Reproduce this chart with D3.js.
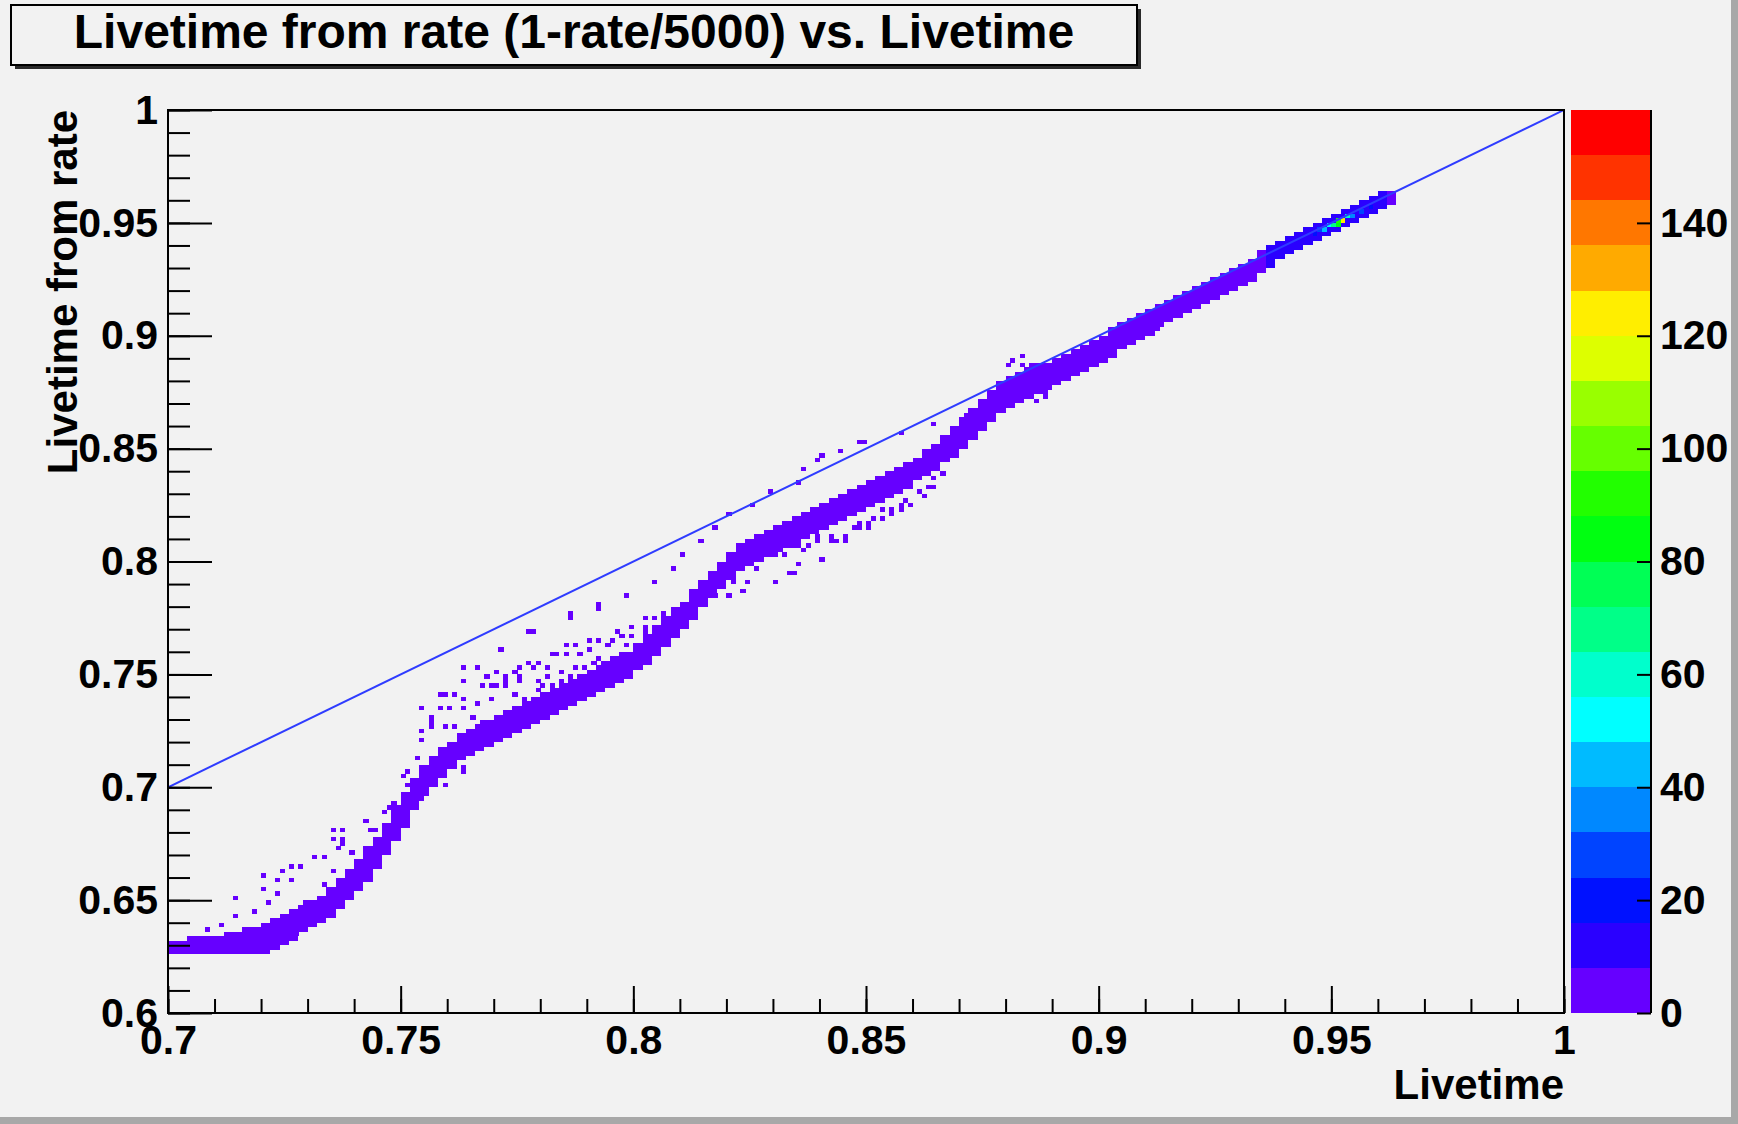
<!DOCTYPE html>
<html>
<head>
<meta charset="utf-8">
<script src="https://cdn.jsdelivr.net/npm/d3@7"></script>
<style>
  body { margin: 0; background: #f2f2f2; }
  text { font-family: "Liberation Sans", Arial, Helvetica, sans-serif; font-weight: bold; fill: #000; }
</style>
</head>
<body>
<div id="chart"></div>
<script>
// Axis ticks and labels
const xTicks = [0.7, 0.75, 0.8, 0.85, 0.9, 0.95, 1]
const xTickLabels = ["0.7", "0.75", "0.8", "0.85", "0.9", "0.95", "1"]
const yTicks = [0.6, 0.65, 0.7, 0.75, 0.8, 0.85, 0.9, 0.95, 1]
const yTickLabels = ["0.6", "0.65", "0.7", "0.75", "0.8", "0.85", "0.9", "0.95", "1"]
const zTicks = [0, 20, 40, 60, 80, 100, 120, 140]

// ROOT palette, 20 levels from 0 to 160 (8 counts each)
const palette = ["#6600ff", "#2a00ff", "#0011ff", "#0044ff", "#0088ff", "#00bbff", "#00ffff", "#00ffcc",
    "#00ff88", "#00ff55", "#00ff11", "#22ff00", "#66ff00", "#99ff00", "#ddff00", "#ffee00",
    "#ffaa00", "#ff7700", "#ff3300", "#ff0000"]
const zMax = 160

// Reference line livetime == livetime from rate
const lineX = [0.7, 1.0]
const lineY = [0.7, 1.0]

// Dense ridge: [livetime, lowest filled bin, highest filled bin, counts]
const ridge = [
    [0.700, 0.626, 0.631, 4], [0.702, 0.626, 0.631, 4], [0.704, 0.626, 0.632, 4], [0.706, 0.627, 0.632, 4],
    [0.708, 0.627, 0.633, 4], [0.710, 0.627, 0.633, 4], [0.712, 0.627, 0.634, 4], [0.714, 0.627, 0.634, 4],
    [0.716, 0.627, 0.636, 4], [0.718, 0.626, 0.637, 4], [0.720, 0.627, 0.638, 4], [0.722, 0.628, 0.640, 4],
    [0.724, 0.630, 0.642, 4], [0.726, 0.633, 0.644, 4], [0.728, 0.637, 0.647, 4], [0.730, 0.639, 0.649, 4],
    [0.732, 0.641, 0.651, 4], [0.734, 0.643, 0.654, 4], [0.736, 0.646, 0.658, 4], [0.738, 0.651, 0.663, 4],
    [0.740, 0.655, 0.667, 4], [0.742, 0.659, 0.672, 4], [0.744, 0.664, 0.677, 4], [0.746, 0.670, 0.683, 4],
    [0.748, 0.676, 0.690, 4], [0.750, 0.683, 0.697, 4], [0.752, 0.690, 0.703, 4], [0.754, 0.696, 0.708, 4],
    [0.756, 0.701, 0.712, 4], [0.758, 0.705, 0.716, 4], [0.760, 0.709, 0.719, 4], [0.762, 0.712, 0.722, 4],
    [0.764, 0.715, 0.725, 4], [0.766, 0.717, 0.727, 4], [0.768, 0.719, 0.729, 4], [0.770, 0.721, 0.731, 4],
    [0.772, 0.723, 0.733, 4], [0.774, 0.725, 0.735, 4], [0.776, 0.727, 0.737, 4], [0.778, 0.729, 0.739, 4],
    [0.780, 0.730, 0.740, 4], [0.782, 0.732, 0.742, 4], [0.784, 0.734, 0.744, 4], [0.786, 0.736, 0.746, 4],
    [0.788, 0.738, 0.748, 4], [0.790, 0.740, 0.750, 4], [0.792, 0.743, 0.753, 4], [0.794, 0.745, 0.755, 4],
    [0.796, 0.747, 0.757, 4], [0.798, 0.749, 0.759, 4], [0.800, 0.752, 0.762, 4], [0.802, 0.755, 0.766, 4],
    [0.804, 0.758, 0.770, 4], [0.806, 0.762, 0.774, 4], [0.808, 0.766, 0.778, 4], [0.810, 0.770, 0.781, 4],
    [0.812, 0.775, 0.786, 4], [0.814, 0.780, 0.791, 4], [0.816, 0.785, 0.795, 4], [0.818, 0.789, 0.799, 4],
    [0.820, 0.793, 0.803, 4], [0.822, 0.797, 0.806, 4], [0.824, 0.799, 0.808, 4], [0.826, 0.801, 0.810, 4],
    [0.828, 0.803, 0.812, 4], [0.830, 0.805, 0.814, 4], [0.832, 0.807, 0.816, 4], [0.834, 0.809, 0.818, 4],
    [0.836, 0.811, 0.820, 4], [0.838, 0.813, 0.822, 4], [0.840, 0.815, 0.824, 4], [0.842, 0.817, 0.826, 4],
    [0.844, 0.819, 0.828, 4], [0.846, 0.821, 0.830, 4], [0.848, 0.823, 0.832, 4], [0.850, 0.825, 0.834, 4],
    [0.852, 0.827, 0.836, 4], [0.854, 0.829, 0.838, 4], [0.856, 0.831, 0.840, 4], [0.858, 0.833, 0.842, 4],
    [0.860, 0.836, 0.845, 4], [0.862, 0.838, 0.848, 4], [0.864, 0.841, 0.851, 4], [0.866, 0.844, 0.855, 4],
    [0.868, 0.847, 0.859, 4], [0.870, 0.851, 0.863, 4], [0.872, 0.855, 0.867, 4], [0.874, 0.859, 0.871, 4],
    [0.876, 0.863, 0.875, 4], [0.878, 0.866, 0.878, 4], [0.880, 0.868, 0.880, 4], [0.882, 0.870, 0.882, 4],
    [0.884, 0.872, 0.884, 4], [0.886, 0.874, 0.886, 4], [0.888, 0.876, 0.887, 4], [0.890, 0.878, 0.889, 4],
    [0.892, 0.880, 0.891, 4], [0.894, 0.882, 0.893, 4], [0.896, 0.884, 0.895, 4], [0.898, 0.886, 0.897, 4],
    [0.900, 0.889, 0.899, 4], [0.902, 0.891, 0.902, 4], [0.904, 0.894, 0.904, 4], [0.906, 0.896, 0.906, 4],
    [0.908, 0.899, 0.909, 4], [0.910, 0.901, 0.911, 4], [0.912, 0.904, 0.913, 4], [0.914, 0.906, 0.915, 4],
    [0.916, 0.908, 0.917, 4], [0.918, 0.910, 0.919, 4], [0.920, 0.912, 0.921, 4], [0.922, 0.914, 0.923, 4],
    [0.924, 0.916, 0.924, 4], [0.926, 0.918, 0.926, 4], [0.928, 0.920, 0.928, 4], [0.930, 0.922, 0.930, 4],
    [0.932, 0.925, 0.933, 4], [0.934, 0.928, 0.936, 4], [0.936, 0.931, 0.938, 10], [0.938, 0.934, 0.941, 10],
    [0.940, 0.936, 0.943, 10], [0.942, 0.938, 0.945, 10], [0.944, 0.940, 0.947, 10], [0.946, 0.942, 0.949, 10],
    [0.948, 0.944, 0.951, 10], [0.950, 0.946, 0.953, 10], [0.952, 0.948, 0.955, 10], [0.954, 0.950, 0.957, 10],
    [0.956, 0.952, 0.959, 10], [0.958, 0.954, 0.960, 10], [0.960, 0.956, 0.962, 10], [0.962, 0.958, 0.963, 4]
]

// Isolated bins off the ridge: [livetime, livetime from rate]
const scatter = [
    [0.7069, 0.6337], [0.708, 0.6368], [0.7112, 0.639], [0.7148, 0.642], [0.7148, 0.6514], [0.7183, 0.6452],
    [0.7204, 0.655], [0.721, 0.6487], [0.7207, 0.6604], [0.7239, 0.658], [0.7239, 0.6536], [0.7245, 0.662],
    [0.726, 0.6594], [0.7264, 0.6644], [0.7286, 0.6655], [0.729, 0.6492], [0.7312, 0.6695], [0.733, 0.657],
    [0.7337, 0.669], [0.7355, 0.6633], [0.7357, 0.6816], [0.7359, 0.677], [0.7363, 0.673], [0.737, 0.6767],
    [0.7374, 0.681], [0.7374, 0.6753], [0.7395, 0.6709], [0.7425, 0.685], [0.7428, 0.6846], [0.7434, 0.6802],
    [0.7445, 0.6779], [0.744, 0.681], [0.7468, 0.6886], [0.747, 0.6917], [0.7484, 0.693], [0.7503, 0.7041],
    [0.7514, 0.7019], [0.7516, 0.7067], [0.7535, 0.7134], [0.7542, 0.7205], [0.7546, 0.6957], [0.7548, 0.7245],
    [0.7548, 0.7355], [0.7563, 0.7276], [0.7563, 0.7298], [0.7569, 0.7311], [0.758, 0.7351], [0.7585, 0.74],
    [0.7591, 0.74], [0.7591, 0.7001], [0.7579, 0.712], [0.7584, 0.7047], [0.7595, 0.7262], [0.76, 0.7342],
    [0.7612, 0.7276], [0.7612, 0.7112], [0.7617, 0.7413], [0.7632, 0.7475], [0.7634, 0.7342], [0.7634, 0.7386],
    [0.7638, 0.7072], [0.7639, 0.708], [0.7645, 0.7231], [0.7653, 0.7307], [0.7664, 0.7537], [0.7666, 0.7377],
    [0.767, 0.7444], [0.7675, 0.7284], [0.7692, 0.7386], [0.7698, 0.7289], [0.7698, 0.7386], [0.7698, 0.7453],
    [0.7707, 0.7444], [0.7711, 0.7612], [0.772, 0.7329], [0.772, 0.7284], [0.7729, 0.7484], [0.7729, 0.7453],
    [0.7729, 0.7466], [0.7739, 0.7302], [0.7741, 0.7408], [0.7741, 0.7342], [0.7752, 0.7276], [0.7754, 0.7528],
    [0.7756, 0.7475], [0.7763, 0.7386], [0.7776, 0.755], [0.7782, 0.7688], [0.7784, 0.7528], [0.7793, 0.7462],
    [0.7797, 0.7462], [0.7797, 0.7422], [0.7805, 0.744], [0.7814, 0.7386], [0.7817, 0.7484], [0.7825, 0.7455],
    [0.7827, 0.7586], [0.7834, 0.7581], [0.7836, 0.7342], [0.7842, 0.7506], [0.7845, 0.7475], [0.7857, 0.7594],
    [0.7865, 0.748], [0.7868, 0.775], [0.787, 0.7532], [0.7885, 0.7581], [0.7885, 0.7386], [0.789, 0.752],
    [0.7907, 0.7643], [0.791, 0.7545], [0.7922, 0.7652], [0.7924, 0.7803], [0.7928, 0.7577], [0.7935, 0.7555],
    [0.795, 0.7564], [0.7956, 0.7652], [0.7967, 0.7696], [0.7975, 0.7595], [0.7986, 0.7856], [0.7993, 0.771],
    [0.7995, 0.7665], [0.8, 0.7621], [0.8014, 0.7594], [0.8021, 0.7741], [0.8029, 0.7696], [0.8035, 0.7665],
    [0.8042, 0.7913], [0.8042, 0.7754], [0.8051, 0.771], [0.806, 0.7725], [0.8064, 0.7763], [0.8085, 0.7971],
    [0.81, 0.8029], [0.8141, 0.8091], [0.8171, 0.7843], [0.8178, 0.8144], [0.82, 0.8206], [0.8208, 0.7843],
    [0.8214, 0.7905], [0.8236, 0.7874], [0.8244, 0.7918], [0.8255, 0.8259], [0.8266, 0.7976], [0.8287, 0.802],
    [0.8298, 0.8317], [0.8309, 0.7905], [0.8309, 0.8038], [0.833, 0.7949], [0.8343, 0.8082], [0.8343, 0.7949],
    [0.8352, 0.8357], [0.8358, 0.8064], [0.8358, 0.7993], [0.8362, 0.8401], [0.8395, 0.8104], [0.8399, 0.8454],
    [0.84, 0.8467], [0.8401, 0.8015], [0.8408, 0.8007], [0.8429, 0.8082], [0.844, 0.8489], [0.8451, 0.8095],
    [0.8472, 0.814], [0.8485, 0.852], [0.8487, 0.8175], [0.8494, 0.8529], [0.8515, 0.8197], [0.853, 0.8228],
    [0.8558, 0.8228], [0.8571, 0.8574], [0.8573, 0.8259], [0.8588, 0.8272], [0.861, 0.8317], [0.8631, 0.833],
    [0.8642, 0.8613], [0.8644, 0.8374], [0.8666, 0.8392], [0.8715, 0.8649], [0.8737, 0.8667], [0.8809, 0.8879],
    [0.8816, 0.8884], [0.883, 0.8901], [0.883, 0.887], [0.8852, 0.887], [0.8863, 0.8706], [0.8874, 0.8848],
    [0.888, 0.8729], [0.8889, 0.875], [0.9128, 0.9039], [0.9138, 0.9056], [0.9179, 0.9083], [0.9179, 0.9136],
    [0.9213, 0.9145], [0.9239, 0.9172], [0.9246, 0.9167], [0.7193, 0.627], [0.7277, 0.6345],
    // upper branch between 0.76 and 0.81
    [0.7639, 0.7536], [0.771, 0.761], [0.7777, 0.7686], [0.7865, 0.776], [0.7925, 0.7794], [0.7817, 0.7538],
    [0.7758, 0.748], [0.7877, 0.7636], [0.7972, 0.766], [0.802, 0.771], [0.7745, 0.7505], [0.7795, 0.7555],
    [0.7855, 0.7625], [0.7905, 0.7605], [0.7945, 0.7625], [0.7985, 0.7635], [0.7685, 0.7485], [0.7705, 0.7505],
    // lower branch between 0.83 and 0.865
    [0.8315, 0.8045], [0.834, 0.806], [0.837, 0.807], [0.839, 0.8085], [0.842, 0.81], [0.845, 0.8115],
    [0.848, 0.814], [0.85, 0.8165], [0.853, 0.819], [0.855, 0.821], [0.857, 0.823], [0.859, 0.8255],
    [0.862, 0.828], [0.864, 0.832], [0.8325, 0.8025], [0.8365, 0.8045], [0.8435, 0.8095], [0.8505, 0.8145]
]

// Hot bins near the top end: [livetime, livetime from rate, counts]
const hotBins = [
    [0.944, 0.942, 12], [0.946, 0.944, 20], [0.947, 0.946, 30], [0.948, 0.946, 45], [0.949, 0.948, 55],
    [0.950, 0.948, 70], [0.951, 0.948, 85], [0.951, 0.950, 95], [0.952, 0.950, 120], [0.953, 0.952, 60],
    [0.954, 0.952, 35], [0.956, 0.954, 25], [0.958, 0.956, 18], [0.960, 0.958, 12]
]

const binX = 0.001
const binY = 0.002

// Canvas
const W = 1738, H = 1124
const svg = d3.select("#chart").append("svg")
    .attr("width", W).attr("height", H)
    .style("display", "block")

svg.append("rect").attr("width", W).attr("height", H).attr("fill", "#f2f2f2")
// bevelled canvas border
svg.append("rect").attr("x", W - 7).attr("y", 0).attr("width", 7).attr("height", H).attr("fill", "#a8a8a8")
svg.append("rect").attr("x", 0).attr("y", H - 7).attr("width", W).attr("height", 7).attr("fill", "#a8a8a8")

// Scales
const x = d3.scaleLinear().domain([0.7, 1]).range([168, 1564])
const y = d3.scaleLinear().domain([0.6, 1]).range([1013, 110])
const z = d3.scaleLinear().domain([0, zMax]).range([1013, 110])
const color = c => palette[Math.min(palette.length - 1, Math.floor(c / (zMax / palette.length)))]
const snapX = v => Math.floor(v / binX + 1e-6) * binX
const snapY = v => Math.floor(v / binY + 1e-6) * binY

svg.append("clipPath").attr("id", "frame-clip")
    .append("rect").attr("x", 168).attr("y", 110).attr("width", 1396).attr("height", 903)

let plot = svg.append("g").attr("clip-path", "url(#frame-clip)")
    .style("shape-rendering", "crispEdges")

// Ridge columns
plot.append("g").selectAll("rect")
    .data(ridge)
    .enter()
    .append("rect")
    .attr("x", d => x(d[0]))
    .attr("width", d => x(d[0] + 2 * binX) - x(d[0]))
    .attr("y", d => y(snapY(d[2]) + binY))
    .attr("height", d => y(snapY(d[1])) - y(snapY(d[2]) + binY))
    .attr("fill", d => color(d[3]))

// Isolated bins
plot.append("g").selectAll("rect")
    .data(scatter)
    .enter()
    .append("rect")
    .attr("x", d => x(snapX(d[0])))
    .attr("width", x(0.7 + binX) - x(0.7) + 0.5)
    .attr("y", d => y(snapY(d[1]) + binY))
    .attr("height", y(0.6) - y(0.6 + binY))
    .attr("fill", palette[0])

// Hot bins
plot.append("g").selectAll("rect")
    .data(hotBins)
    .enter()
    .append("rect")
    .attr("x", d => x(snapX(d[0])))
    .attr("width", x(0.7 + binX) - x(0.7))
    .attr("y", d => y(snapY(d[1]) + binY))
    .attr("height", y(0.6) - y(0.6 + binY))
    .attr("fill", d => color(d[2]))

// Diagonal reference line
plot.append("path")
    .datum(d3.zip(lineX, lineY))
    .attr("d", d3.line().x(d => x(d[0])).y(d => y(d[1])))
    .attr("fill", "none")
    .attr("stroke", "#2f3cff")
    .attr("stroke-width", 2)
    .style("shape-rendering", "auto")

// Axes
const styleAxis = g => {
    g.select(".domain").remove()
    g.selectAll(".tick line").attr("stroke", "#000").attr("stroke-width", 2)
    g.selectAll("text").attr("font-size", 41).attr("font-family", null).attr("fill", "#000")
}

svg.append("g").attr("transform", "translate(0,1013)")
    .call(d3.axisBottom(x).ticks(30).tickSize(-14).tickFormat(""))
    .call(styleAxis)
svg.append("g").attr("transform", "translate(0,1013)")
    .call(d3.axisBottom(x).tickValues(xTicks).tickFormat((d, i) => xTickLabels[i])
        .tickSizeInner(-27).tickSizeOuter(0).tickPadding(12))
    .call(styleAxis)

svg.append("g").attr("transform", "translate(168,0)")
    .call(d3.axisLeft(y).ticks(40).tickSize(-22).tickFormat(""))
    .call(styleAxis)
svg.append("g").attr("transform", "translate(168,0)")
    .call(d3.axisLeft(y).tickValues(yTicks).tickFormat((d, i) => yTickLabels[i])
        .tickSizeInner(-44).tickSizeOuter(0).tickPadding(10))
    .call(styleAxis)

// Frame
svg.append("rect")
    .attr("x", 168).attr("y", 110).attr("width", 1396).attr("height", 903)
    .attr("fill", "none").attr("stroke", "#000").attr("stroke-width", 2)

// Axis titles
svg.append("text")
    .attr("x", 1564).attr("y", 1099)
    .attr("text-anchor", "end")
    .attr("font-size", 42)
    .text("Livetime")

svg.append("text")
    .attr("transform", "translate(77,110) rotate(-90)")
    .attr("text-anchor", "end")
    .attr("font-size", 42)
    .text("Livetime from rate")

// Colour bar
const bandEdges = d3.range(0, zMax, zMax / palette.length)
let zbar = svg.append("g").style("shape-rendering", "crispEdges")
zbar.selectAll("rect")
    .data(bandEdges)
    .enter()
    .append("rect")
    .attr("x", 1571)
    .attr("width", 80)
    .attr("y", d => z(d + zMax / palette.length))
    .attr("height", d => z(d) - z(d + zMax / palette.length))
    .attr("fill", (d, i) => palette[i])

svg.append("g").attr("transform", "translate(1651,0)")
    .call(d3.axisRight(z).tickValues(zTicks).tickFormat(d3.format("d"))
        .tickSizeInner(-14).tickSizeOuter(0).tickPadding(9))
    .call(g => {
        g.select(".domain").remove()
        g.selectAll(".tick line").attr("stroke", "#000").attr("stroke-width", 2)
        g.selectAll("text").attr("font-size", 41).attr("font-family", null).attr("fill", "#000")
    })
svg.append("line")
    .attr("x1", 1651).attr("x2", 1651).attr("y1", 110).attr("y2", 1013)
    .attr("stroke", "#000").attr("stroke-width", 2)

// Title box with shadow
svg.append("rect")
    .attr("x", 15).attr("y", 9).attr("width", 1126).attr("height", 60)
    .attr("fill", "#2a2a2a")
svg.append("rect")
    .attr("x", 11).attr("y", 5).attr("width", 1126).attr("height", 60)
    .attr("fill", "#f2f2f2").attr("stroke", "#000").attr("stroke-width", 2)
svg.append("text")
    .attr("x", 574).attr("y", 48)
    .attr("text-anchor", "middle")
    .attr("font-size", 48)
    .text("Livetime from rate (1-rate/5000) vs. Livetime")
</script>
</body>
</html>
